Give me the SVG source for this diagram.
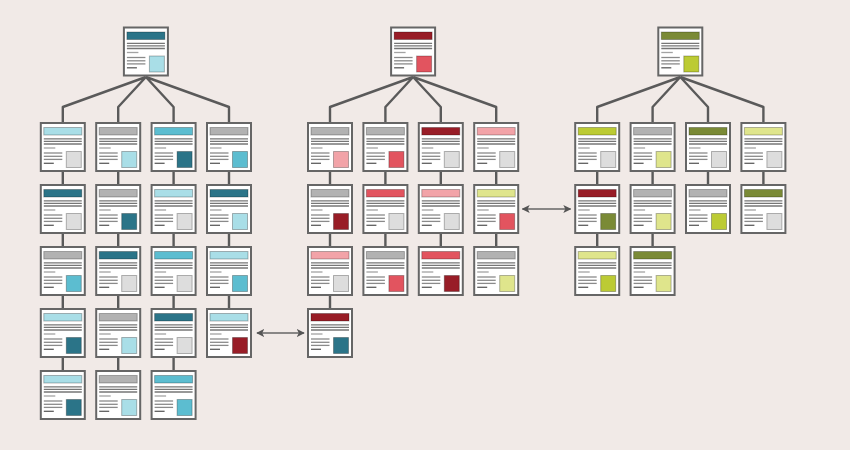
<svg xmlns="http://www.w3.org/2000/svg" xmlns:xlink="http://www.w3.org/1999/xlink" width="850" height="450" viewBox="0 0 850 450">
<style>
.bg{fill:#f1eae7}
.frame{fill:#fff;stroke:#666;stroke-width:2}
.l1{stroke:#767676;stroke-width:1.3}
.l2{stroke:#a3a3a3;stroke-width:1.3}
.l3{stroke:#8a8a8a;stroke-width:1.3}
.l4{stroke:#5e5e5e;stroke-width:1.3}
.hd,.im{stroke:#000;stroke-opacity:0.28;stroke-width:1}
.conn{fill:none;stroke:#5a5a5a;stroke-width:2.4;stroke-linejoin:round}
.arrow{stroke:#666;stroke-width:1.5;fill:none}
.dt{fill:#2b7488}.mt{fill:#5cbdd0}.lb{fill:#a9dee7}
.gr{fill:#b2b2b2}.lg{fill:#dddddd}
.dr{fill:#981d27}.mr{fill:#e2545f}.pk{fill:#f2a3a8}
.ol{fill:#7a8a36}.li{fill:#bccb34}.ll{fill:#dfe58c}
</style>
<defs>
<g id="card">
<rect class="frame" x="1" y="1" width="44" height="48"/>
<line class="l1" x1="4" y1="16.8" x2="42" y2="16.8"/>
<line class="l1" x1="4" y1="19.4" x2="42" y2="19.4"/>
<line class="l1" x1="4" y1="22" x2="42" y2="22"/>
<line class="l2" x1="4" y1="26" x2="15.5" y2="26"/>
<line class="l3" x1="4" y1="31" x2="22.5" y2="31"/>
<line class="l3" x1="4" y1="34.3" x2="22.5" y2="34.3"/>
<line class="l3" x1="4" y1="37.4" x2="22.5" y2="37.4"/>
<line class="l4" x1="4" y1="41.3" x2="14" y2="41.3"/>
</g>
<marker id="ah" viewBox="0 0 10 10" refX="9" refY="5" markerWidth="8" markerHeight="8" markerUnits="userSpaceOnUse" orient="auto-start-reverse">
<path d="M0,0 L10,5 L0,10 L2.5,5 Z" fill="#555"/>
</marker>
</defs>
<rect class="bg" x="0" y="0" width="850" height="450"/>

<g id="connectors">
<path class="conn" d="M145.9 77 L62.8 107 V122 M145.9 77 L118.2 107 V122 M145.9 77 L173.6 107 V122 M145.9 77 L229 107 V122"/>
<path class="conn" d="M413.1 77 L330 107 V122 M413.1 77 L385.4 107 V122 M413.1 77 L440.8 107 V122 M413.1 77 L496.2 107 V122"/>
<path class="conn" d="M680.3 77 L597.2 107 V122 M680.3 77 L652.6 107 V122 M680.3 77 L708 107 V122 M680.3 77 L763.4 107 V122"/>
<path class="conn" d="M62.8 172 V370 M118.2 172 V370 M173.6 172 V370 M229 172 V308"/>
<path class="conn" d="M330 172 V308 M385.4 172 V246 M440.8 172 V246 M496.2 172 V246"/>
<path class="conn" d="M597.2 172 V246 M652.6 172 V246 M708 172 V184 M763.4 172 V184"/>
<line class="arrow" x1="257" y1="333" x2="304" y2="333" marker-start="url(#ah)" marker-end="url(#ah)"/>
<line class="arrow" x1="522.5" y1="209" x2="570.5" y2="209" marker-start="url(#ah)" marker-end="url(#ah)"/>
</g>

<!-- Left tree -->
<g id="L0" transform="translate(122.9,26.5)"><use href="#card"/><rect class="hd dt" x="4" y="5.5" width="38" height="7.5"/><rect class="im lb" x="26.5" y="29.5" width="15" height="16"/></g>
<g id="L11" transform="translate(39.8,122)"><use href="#card"/><rect class="hd lb" x="4" y="5.5" width="38" height="7.5"/><rect class="im lg" x="26.5" y="29.5" width="15" height="16"/></g>
<g id="L12" transform="translate(95.2,122)"><use href="#card"/><rect class="hd gr" x="4" y="5.5" width="38" height="7.5"/><rect class="im lb" x="26.5" y="29.5" width="15" height="16"/></g>
<g id="L13" transform="translate(150.6,122)"><use href="#card"/><rect class="hd mt" x="4" y="5.5" width="38" height="7.5"/><rect class="im dt" x="26.5" y="29.5" width="15" height="16"/></g>
<g id="L14" transform="translate(206,122)"><use href="#card"/><rect class="hd gr" x="4" y="5.5" width="38" height="7.5"/><rect class="im mt" x="26.5" y="29.5" width="15" height="16"/></g>
<g id="L21" transform="translate(39.8,184)"><use href="#card"/><rect class="hd dt" x="4" y="5.5" width="38" height="7.5"/><rect class="im lg" x="26.5" y="29.5" width="15" height="16"/></g>
<g id="L22" transform="translate(95.2,184)"><use href="#card"/><rect class="hd gr" x="4" y="5.5" width="38" height="7.5"/><rect class="im dt" x="26.5" y="29.5" width="15" height="16"/></g>
<g id="L23" transform="translate(150.6,184)"><use href="#card"/><rect class="hd lb" x="4" y="5.5" width="38" height="7.5"/><rect class="im lg" x="26.5" y="29.5" width="15" height="16"/></g>
<g id="L24" transform="translate(206,184)"><use href="#card"/><rect class="hd dt" x="4" y="5.5" width="38" height="7.5"/><rect class="im lb" x="26.5" y="29.5" width="15" height="16"/></g>
<g id="L31" transform="translate(39.8,246)"><use href="#card"/><rect class="hd gr" x="4" y="5.5" width="38" height="7.5"/><rect class="im mt" x="26.5" y="29.5" width="15" height="16"/></g>
<g id="L32" transform="translate(95.2,246)"><use href="#card"/><rect class="hd dt" x="4" y="5.5" width="38" height="7.5"/><rect class="im lg" x="26.5" y="29.5" width="15" height="16"/></g>
<g id="L33" transform="translate(150.6,246)"><use href="#card"/><rect class="hd mt" x="4" y="5.5" width="38" height="7.5"/><rect class="im lg" x="26.5" y="29.5" width="15" height="16"/></g>
<g id="L34" transform="translate(206,246)"><use href="#card"/><rect class="hd lb" x="4" y="5.5" width="38" height="7.5"/><rect class="im mt" x="26.5" y="29.5" width="15" height="16"/></g>
<g id="L41" transform="translate(39.8,308)"><use href="#card"/><rect class="hd lb" x="4" y="5.5" width="38" height="7.5"/><rect class="im dt" x="26.5" y="29.5" width="15" height="16"/></g>
<g id="L42" transform="translate(95.2,308)"><use href="#card"/><rect class="hd gr" x="4" y="5.5" width="38" height="7.5"/><rect class="im lb" x="26.5" y="29.5" width="15" height="16"/></g>
<g id="L43" transform="translate(150.6,308)"><use href="#card"/><rect class="hd dt" x="4" y="5.5" width="38" height="7.5"/><rect class="im lg" x="26.5" y="29.5" width="15" height="16"/></g>
<g id="L44" transform="translate(206,308)"><use href="#card"/><rect class="hd lb" x="4" y="5.5" width="38" height="7.5"/><rect class="im dr" x="26.5" y="29.5" width="15" height="16"/></g>
<g id="L51" transform="translate(39.8,370)"><use href="#card"/><rect class="hd lb" x="4" y="5.5" width="38" height="7.5"/><rect class="im dt" x="26.5" y="29.5" width="15" height="16"/></g>
<g id="L52" transform="translate(95.2,370)"><use href="#card"/><rect class="hd gr" x="4" y="5.5" width="38" height="7.5"/><rect class="im lb" x="26.5" y="29.5" width="15" height="16"/></g>
<g id="L53" transform="translate(150.6,370)"><use href="#card"/><rect class="hd mt" x="4" y="5.5" width="38" height="7.5"/><rect class="im mt" x="26.5" y="29.5" width="15" height="16"/></g>

<!-- Middle tree -->
<g id="M0" transform="translate(390.1,26.5)"><use href="#card"/><rect class="hd dr" x="4" y="5.5" width="38" height="7.5"/><rect class="im mr" x="26.5" y="29.5" width="15" height="16"/></g>
<g id="M11" transform="translate(307,122)"><use href="#card"/><rect class="hd gr" x="4" y="5.5" width="38" height="7.5"/><rect class="im pk" x="26.5" y="29.5" width="15" height="16"/></g>
<g id="M12" transform="translate(362.4,122)"><use href="#card"/><rect class="hd gr" x="4" y="5.5" width="38" height="7.5"/><rect class="im mr" x="26.5" y="29.5" width="15" height="16"/></g>
<g id="M13" transform="translate(417.8,122)"><use href="#card"/><rect class="hd dr" x="4" y="5.5" width="38" height="7.5"/><rect class="im lg" x="26.5" y="29.5" width="15" height="16"/></g>
<g id="M14" transform="translate(473.2,122)"><use href="#card"/><rect class="hd pk" x="4" y="5.5" width="38" height="7.5"/><rect class="im lg" x="26.5" y="29.5" width="15" height="16"/></g>
<g id="M21" transform="translate(307,184)"><use href="#card"/><rect class="hd gr" x="4" y="5.5" width="38" height="7.5"/><rect class="im dr" x="26.5" y="29.5" width="15" height="16"/></g>
<g id="M22" transform="translate(362.4,184)"><use href="#card"/><rect class="hd mr" x="4" y="5.5" width="38" height="7.5"/><rect class="im lg" x="26.5" y="29.5" width="15" height="16"/></g>
<g id="M23" transform="translate(417.8,184)"><use href="#card"/><rect class="hd pk" x="4" y="5.5" width="38" height="7.5"/><rect class="im lg" x="26.5" y="29.5" width="15" height="16"/></g>
<g id="M24" transform="translate(473.2,184)"><use href="#card"/><rect class="hd ll" x="4" y="5.5" width="38" height="7.5"/><rect class="im mr" x="26.5" y="29.5" width="15" height="16"/></g>
<g id="M31" transform="translate(307,246)"><use href="#card"/><rect class="hd pk" x="4" y="5.5" width="38" height="7.5"/><rect class="im lg" x="26.5" y="29.5" width="15" height="16"/></g>
<g id="M32" transform="translate(362.4,246)"><use href="#card"/><rect class="hd gr" x="4" y="5.5" width="38" height="7.5"/><rect class="im mr" x="26.5" y="29.5" width="15" height="16"/></g>
<g id="M33" transform="translate(417.8,246)"><use href="#card"/><rect class="hd mr" x="4" y="5.5" width="38" height="7.5"/><rect class="im dr" x="26.5" y="29.5" width="15" height="16"/></g>
<g id="M34" transform="translate(473.2,246)"><use href="#card"/><rect class="hd gr" x="4" y="5.5" width="38" height="7.5"/><rect class="im ll" x="26.5" y="29.5" width="15" height="16"/></g>
<g id="M41" transform="translate(307,308)"><use href="#card"/><rect class="hd dr" x="4" y="5.5" width="38" height="7.5"/><rect class="im dt" x="26.5" y="29.5" width="15" height="16"/></g>

<!-- Right tree -->
<g id="R0" transform="translate(657.3,26.5)"><use href="#card"/><rect class="hd ol" x="4" y="5.5" width="38" height="7.5"/><rect class="im li" x="26.5" y="29.5" width="15" height="16"/></g>
<g id="R11" transform="translate(574.2,122)"><use href="#card"/><rect class="hd li" x="4" y="5.5" width="38" height="7.5"/><rect class="im lg" x="26.5" y="29.5" width="15" height="16"/></g>
<g id="R12" transform="translate(629.6,122)"><use href="#card"/><rect class="hd gr" x="4" y="5.5" width="38" height="7.5"/><rect class="im ll" x="26.5" y="29.5" width="15" height="16"/></g>
<g id="R13" transform="translate(685,122)"><use href="#card"/><rect class="hd ol" x="4" y="5.5" width="38" height="7.5"/><rect class="im lg" x="26.5" y="29.5" width="15" height="16"/></g>
<g id="R14" transform="translate(740.4,122)"><use href="#card"/><rect class="hd ll" x="4" y="5.5" width="38" height="7.5"/><rect class="im lg" x="26.5" y="29.5" width="15" height="16"/></g>
<g id="R21" transform="translate(574.2,184)"><use href="#card"/><rect class="hd dr" x="4" y="5.5" width="38" height="7.5"/><rect class="im ol" x="26.5" y="29.5" width="15" height="16"/></g>
<g id="R22" transform="translate(629.6,184)"><use href="#card"/><rect class="hd gr" x="4" y="5.5" width="38" height="7.5"/><rect class="im ll" x="26.5" y="29.5" width="15" height="16"/></g>
<g id="R23" transform="translate(685,184)"><use href="#card"/><rect class="hd gr" x="4" y="5.5" width="38" height="7.5"/><rect class="im li" x="26.5" y="29.5" width="15" height="16"/></g>
<g id="R24" transform="translate(740.4,184)"><use href="#card"/><rect class="hd ol" x="4" y="5.5" width="38" height="7.5"/><rect class="im lg" x="26.5" y="29.5" width="15" height="16"/></g>
<g id="R31" transform="translate(574.2,246)"><use href="#card"/><rect class="hd ll" x="4" y="5.5" width="38" height="7.5"/><rect class="im li" x="26.5" y="29.5" width="15" height="16"/></g>
<g id="R32" transform="translate(629.6,246)"><use href="#card"/><rect class="hd ol" x="4" y="5.5" width="38" height="7.5"/><rect class="im ll" x="26.5" y="29.5" width="15" height="16"/></g>
</svg>
